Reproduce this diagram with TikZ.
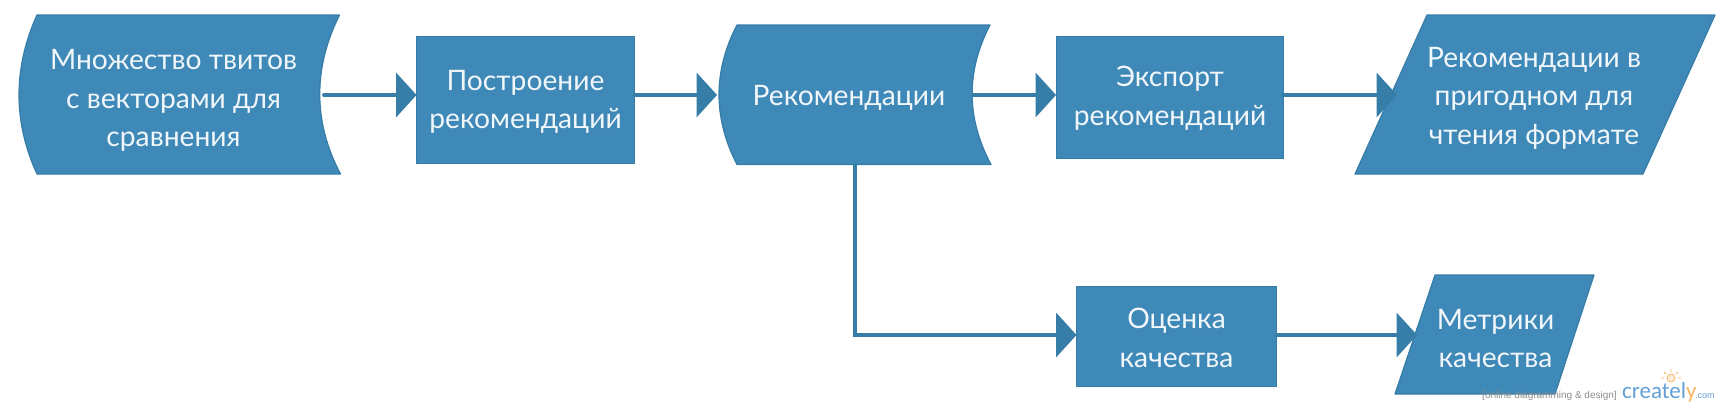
\documentclass[tikz,border=0pt]{standalone}
\usepackage{fontspec}
\setmainfont{Lato}
\newfontfamily\wmfont{Liberation Sans}
\newfontfamily\logofont{Carlito}
\usetikzlibrary{arrows.meta}
\definecolor{fillblue}{HTML}{3F89B8}
\definecolor{edgeblue}{HTML}{367DA7}
\definecolor{wmblue}{HTML}{62A0D6}
\definecolor{wmorange}{HTML}{F5B562}
\tikzset{
  shapebox/.style={fill=fillblue,draw=edgeblue,line width=1.2pt,line join=round},
  rectbox/.style={fill=fillblue,draw=edgeblue,line width=0.8pt,minimum width=#1,inner sep=0pt,outer sep=0pt},
  label/.style={text=white!92!fillblue,font=\fontsize{28.2}{38.5}\selectfont,align=center,inner sep=0pt},
  link/.style={draw=edgeblue,line width=3.8pt,line cap=round,-{Triangle[length=20.5pt,width=45pt,line width=0pt]}},
  wm/.style={inner sep=0pt,anchor=base west}
}
\begin{document}
\begin{tikzpicture}[x=1pt,y=-1pt]
\useasboundingbox (0,0) rectangle (1720,410);
% curved documents
\path[shapebox] (37,15) -- (339.5,15) .. controls (313,68) and (313,122) .. (340.5,174) -- (37,174) .. controls (13,122) and (13,68) .. (37,15) -- cycle;
\path[shapebox] (737,25) -- (990,25) .. controls (966,71) and (966,118) .. (991,164.5) -- (737,164.5) .. controls (713,118) and (713,71) .. (737,25) -- cycle;
% parallelograms
\path[shapebox] (1427,15) -- (1715,15) -- (1643,174) -- (1355,174) -- cycle;
\path[shapebox] (1435,275) -- (1594,275) -- (1555,394) -- (1395,394) -- cycle;
% rectangles
\node[rectbox=218pt,minimum height=127.5pt] (r1) at (525.5,100) {};
\node[rectbox=227pt,minimum height=122pt] (r2) at (1169.5,97) {};
\node[rectbox=200pt,minimum height=100pt] (r3) at (1176.5,336) {};
% labels
\node[label] (t1) at (173.5,100.5) {Множество твитов\\с векторами для\\сравнения};
\node[label] (t2) at (525.5,102) {Построение\\рекомендаций};
\node[label] (t3) at (849,97.5) {Рекомендации};
\node[label] (t4) at (1170,98) {Экспорт\\рекомендаций};
\node[label] (t5) at (1534,98) {Рекомендации в\\пригодном для\\чтения формате};
\node[label] (t6) at (1176.5,338) {Оценка\\качества};
\node[label] (t7) at (1495.5,338.5) {Метрики\\качества};
% connection points
\coordinate (c1) at (324,95);
\coordinate (c2) at (973,95);
\coordinate (c3) at (855,165);
\coordinate (c4) at (1397,95);
\coordinate (c5) at (1417,335);
\coordinate (c6) at (717,95);
% connectors
\draw[link] (c1) -- (c1 -| r1.west);
\draw[link] (r1.east |- c1) -- (c6);
\draw[link] (c2) -- (c2 -| r2.west);
\draw[link] (r2.east |- c2) -- (c4);
\draw[link,line cap=butt,line join=miter] (c3) |- (c5 -| r3.west);
\draw[link] (r3.east |- c5) -- (c5);
% watermark
\node[wm,text=black!45,font=\wmfont\fontsize{10}{10}\selectfont] (w1) at (1482,398) {[online diagramming \& design]};
\node[wm,text=wmblue,font=\logofont\fontsize{23}{23}\selectfont] (w2) at (1622,398) {create\textcolor{wmblue}{l}\textcolor{wmorange}{y}};
\node[wm,text=wmblue,font=\wmfont\fontsize{9}{9}\selectfont] (w3) at (1695,398) {.com};
\draw[wmorange,line width=0.8pt,fill=wmorange!25] (1671,378) circle (4pt);
\draw[wmorange,line width=0.8pt] (1671,369) -- (1671,372) (1664,372) -- (1666,374) (1678,372) -- (1676,374) (1661,378) -- (1664,378) (1681,378) -- (1678,378);
\end{tikzpicture}
\end{document}
